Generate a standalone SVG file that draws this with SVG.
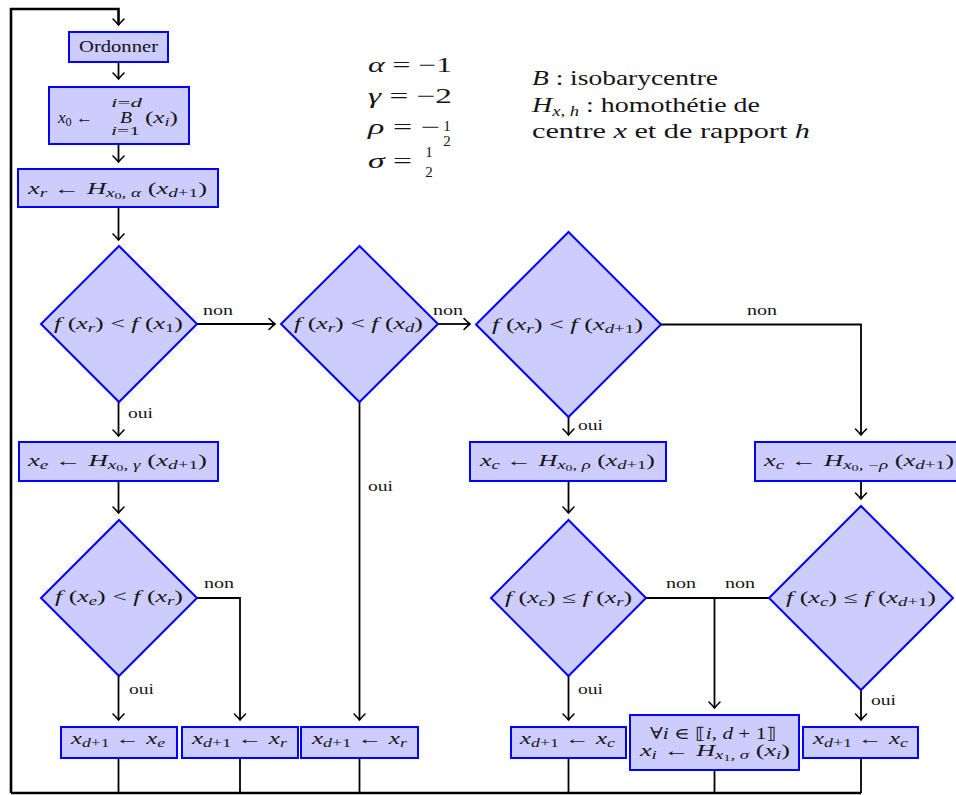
<svg xmlns="http://www.w3.org/2000/svg" width="956" height="795" viewBox="0 0 956 795" font-family="'Liberation Serif', 'Times New Roman', 'DejaVu Serif', serif">
<defs>
<style>
.n{fill:#ccccff;stroke:#0000ff;stroke-width:2}
.c{fill:none;stroke:#000;stroke-width:1.8}
.o{fill:none;stroke:#000;stroke-width:2.6}
.a{marker-end:url(#tip)}
text{font-family:'Liberation Serif','Times New Roman','DejaVu Serif',serif;fill:#151515}
.m{font-size:16px}
.i{font-style:italic}
.b{font-size:11.5px}
.bb{font-size:8.5px}
.l{font-size:14px}
.big{font-size:21px}
.fr{font-size:15px;text-anchor:middle}
</style>
<marker id="tip" markerUnits="userSpaceOnUse" orient="auto" markerWidth="12" markerHeight="14" refX="0" refY="0" viewBox="-8 -7 10 14" overflow="visible">
<path d="M-6,-5.5 Q-2,-1.5 0,0 Q-2,1.5 -6,5.5" fill="none" stroke="#000" stroke-width="1.6" stroke-linecap="round"/>
</marker>
</defs>
<rect width="956" height="795" fill="#fff"/>

<!-- connectors -->
<g id="connectors">
<path class="o a" d="M11,793 V9 H118.5 V25"/>
<path class="o" d="M11,793 H861"/>
<path class="c a" d="M118.5,62 V79"/>
<path class="c a" d="M118.5,144 V162"/>
<path class="c a" d="M118.5,207 V240"/>
<path class="c a" d="M118.5,402 V436"/>
<path class="c a" d="M118.5,481 V513"/>
<path class="c a" d="M118.5,676 V720"/>
<path class="c a" d="M197,598 H240 V720"/>
<path class="c a" d="M197,324 H275"/>
<path class="c a" d="M359.5,402 V720"/>
<path class="c a" d="M438,324 H470"/>
<path class="c a" d="M568.5,417 V435"/>
<path class="c a" d="M661,324.5 H861 V435"/>
<path class="c a" d="M568.5,481 V513"/>
<path class="c a" d="M861,481 V499"/>
<path class="c a" d="M568.5,676 V720"/>
<path class="c" d="M646,598 H769"/>
<path class="c a" d="M714.5,598 V708"/>
<path class="c a" d="M861,690 V720"/>
<path class="c" d="M118.5,758 V793 M240,758 V793 M359.5,758 V793 M568.5,758 V793 M714.5,770 V793 M861,758 V793"/>
<text class="l" x="203" y="315" textLength="30" lengthAdjust="spacingAndGlyphs">non</text>
<text class="l" x="433" y="315" textLength="30" lengthAdjust="spacingAndGlyphs">non</text>
<text class="l" x="747" y="315" textLength="30" lengthAdjust="spacingAndGlyphs">non</text>
<text class="l" x="204" y="588" textLength="30" lengthAdjust="spacingAndGlyphs">non</text>
<text class="l" x="666" y="588" textLength="30" lengthAdjust="spacingAndGlyphs">non</text>
<text class="l" x="725" y="588" textLength="30" lengthAdjust="spacingAndGlyphs">non</text>
<text class="l" x="128" y="418" textLength="25" lengthAdjust="spacingAndGlyphs">oui</text>
<text class="l" x="578" y="430" textLength="25" lengthAdjust="spacingAndGlyphs">oui</text>
<text class="l" x="368" y="491" textLength="25" lengthAdjust="spacingAndGlyphs">oui</text>
<text class="l" x="129" y="694" textLength="25" lengthAdjust="spacingAndGlyphs">oui</text>
<text class="l" x="578" y="694" textLength="25" lengthAdjust="spacingAndGlyphs">oui</text>
<text class="l" x="871" y="705" textLength="25" lengthAdjust="spacingAndGlyphs">oui</text>
</g>

<!-- parameter legend -->
<g id="legend">
<text class="big" x="368" y="72" textLength="84" lengthAdjust="spacingAndGlyphs"><tspan class="i">α</tspan> = −1</text>
<text class="big" x="368" y="103" textLength="84" lengthAdjust="spacingAndGlyphs"><tspan class="i">γ</tspan> = −2</text>
<text class="big" x="368" y="134" textLength="72" lengthAdjust="spacingAndGlyphs"><tspan class="i">ρ</tspan> = −</text>
<text class="fr" x="447" y="131">1</text>
<text class="fr" x="447" y="146">2</text>
<text class="big" x="368" y="168" textLength="44" lengthAdjust="spacingAndGlyphs"><tspan class="i">σ</tspan> =</text>
<text class="fr" x="429" y="157">1</text>
<text class="fr" x="429" y="177">2</text>
<text class="big" x="532" y="85" textLength="186" lengthAdjust="spacingAndGlyphs"><tspan class="i">B</tspan> : isobarycentre</text>
<text class="big" x="532" y="112" textLength="228" lengthAdjust="spacingAndGlyphs"><tspan class="i">H</tspan><tspan font-size="14" dy="4"><tspan class="i">x</tspan>, <tspan class="i">h</tspan></tspan><tspan dy="-4"> : homothétie de</tspan></text>
<text class="big" x="532" y="138" textLength="278" lengthAdjust="spacingAndGlyphs">centre <tspan class="i">x</tspan> et de rapport <tspan class="i">h</tspan></text>
</g>

<!-- process boxes -->
<g id="ordonner">
<rect class="n" x="69" y="32" width="99" height="30"/>
<text class="m" x="79" y="52" textLength="79" lengthAdjust="spacingAndGlyphs">Ordonner</text>
</g>
<g id="barycentre">
<rect class="n" x="49" y="87" width="140" height="57"/>
<text class="m" x="58" y="123" textLength="35" lengthAdjust="spacingAndGlyphs"><tspan class="i">x</tspan><tspan class="b" dy="3">0</tspan><tspan dy="-3"> ←</tspan></text>
<text class="m i" x="120" y="123" textLength="12" lengthAdjust="spacingAndGlyphs">B</text>
<text class="b" x="111" y="107" textLength="31" lengthAdjust="spacingAndGlyphs"><tspan class="i">i</tspan>=<tspan class="i">d</tspan></text>
<text class="b" x="111" y="135" textLength="29" lengthAdjust="spacingAndGlyphs"><tspan class="i">i</tspan>=1</text>
<text class="m" x="145" y="123" textLength="33" lengthAdjust="spacingAndGlyphs">(<tspan class="i">x</tspan><tspan class="b i" dy="3">i</tspan><tspan dy="-3">)</tspan></text>
</g>
<g id="reflexion">
<rect class="n" x="18" y="169" width="200" height="38"/>
<text class="m" x="28" y="194" textLength="179" lengthAdjust="spacingAndGlyphs"><tspan class="i">x</tspan><tspan class="b i" dy="3">r</tspan><tspan dy="-3"> ← </tspan><tspan class="i">H</tspan><tspan class="b" dy="3"><tspan class="i">x</tspan><tspan class="bb" dy="2">0</tspan><tspan dy="-2">, </tspan><tspan class="i">α</tspan></tspan><tspan dy="-3"> (</tspan><tspan class="i">x</tspan><tspan class="b" dy="3"><tspan class="i">d</tspan>+1</tspan><tspan dy="-3">)</tspan></text>
</g>

<!-- tests -->
<g id="test-x1">
<polygon class="n" points="119,246 197,324 119,402 41,324"/>
<text class="m" x="54" y="329" textLength="129" lengthAdjust="spacingAndGlyphs"><tspan class="i">f</tspan> (<tspan class="i">x</tspan><tspan class="b i" dy="3">r</tspan><tspan dy="-3">) &lt; </tspan><tspan class="i">f</tspan> (<tspan class="i">x</tspan><tspan class="b" dy="3">1</tspan><tspan dy="-3">)</tspan></text>
</g>
<g id="test-xd">
<polygon class="n" points="359.5,246 438,324 359.5,402 281,324"/>
<text class="m" x="294" y="329" textLength="129" lengthAdjust="spacingAndGlyphs"><tspan class="i">f</tspan> (<tspan class="i">x</tspan><tspan class="b i" dy="3">r</tspan><tspan dy="-3">) &lt; </tspan><tspan class="i">f</tspan> (<tspan class="i">x</tspan><tspan class="b i" dy="3">d</tspan><tspan dy="-3">)</tspan></text>
</g>
<g id="test-xd1">
<polygon class="n" points="568.5,232 661,324.5 568.5,417 476,324.5"/>
<text class="m" x="492" y="330" textLength="151" lengthAdjust="spacingAndGlyphs"><tspan class="i">f</tspan> (<tspan class="i">x</tspan><tspan class="b i" dy="3">r</tspan><tspan dy="-3">) &lt; </tspan><tspan class="i">f</tspan> (<tspan class="i">x</tspan><tspan class="b" dy="3"><tspan class="i">d</tspan>+1</tspan><tspan dy="-3">)</tspan></text>
</g>

<g id="expansion">
<rect class="n" x="19" y="442" width="199" height="39"/>
<text class="m" x="28" y="466" textLength="179" lengthAdjust="spacingAndGlyphs"><tspan class="i">x</tspan><tspan class="b i" dy="3">e</tspan><tspan dy="-3"> ← </tspan><tspan class="i">H</tspan><tspan class="b" dy="3"><tspan class="i">x</tspan><tspan class="bb" dy="2">0</tspan><tspan dy="-2">, </tspan><tspan class="i">γ</tspan></tspan><tspan dy="-3"> (</tspan><tspan class="i">x</tspan><tspan class="b" dy="3"><tspan class="i">d</tspan>+1</tspan><tspan dy="-3">)</tspan></text>
</g>
<g id="contraction-ext">
<rect class="n" x="470" y="442" width="196" height="39"/>
<text class="m" x="480" y="466" textLength="175" lengthAdjust="spacingAndGlyphs"><tspan class="i">x</tspan><tspan class="b i" dy="3">c</tspan><tspan dy="-3"> ← </tspan><tspan class="i">H</tspan><tspan class="b" dy="3"><tspan class="i">x</tspan><tspan class="bb" dy="2">0</tspan><tspan dy="-2">, </tspan><tspan class="i">ρ</tspan></tspan><tspan dy="-3"> (</tspan><tspan class="i">x</tspan><tspan class="b" dy="3"><tspan class="i">d</tspan>+1</tspan><tspan dy="-3">)</tspan></text>
</g>
<g id="contraction-int">
<rect class="n" x="755" y="442" width="205" height="39"/>
<text class="m" x="764" y="466" textLength="190" lengthAdjust="spacingAndGlyphs"><tspan class="i">x</tspan><tspan class="b i" dy="3">c</tspan><tspan dy="-3"> ← </tspan><tspan class="i">H</tspan><tspan class="b" dy="3"><tspan class="i">x</tspan><tspan class="bb" dy="2">0</tspan><tspan dy="-2">, −</tspan><tspan class="i">ρ</tspan></tspan><tspan dy="-3"> (</tspan><tspan class="i">x</tspan><tspan class="b" dy="3"><tspan class="i">d</tspan>+1</tspan><tspan dy="-3">)</tspan></text>
</g>

<g id="test-xe">
<polygon class="n" points="119,520 197,598 119,676 41,598"/>
<text class="m" x="55" y="602" textLength="128" lengthAdjust="spacingAndGlyphs"><tspan class="i">f</tspan> (<tspan class="i">x</tspan><tspan class="b i" dy="3">e</tspan><tspan dy="-3">) &lt; </tspan><tspan class="i">f</tspan> (<tspan class="i">x</tspan><tspan class="b i" dy="3">r</tspan><tspan dy="-3">)</tspan></text>
</g>
<g id="test-xc-xr">
<polygon class="n" points="568.5,520 646,598 568.5,676 491,598"/>
<text class="m" x="505" y="603" textLength="127" lengthAdjust="spacingAndGlyphs"><tspan class="i">f</tspan> (<tspan class="i">x</tspan><tspan class="b i" dy="3">c</tspan><tspan dy="-3">) ≤ </tspan><tspan class="i">f</tspan> (<tspan class="i">x</tspan><tspan class="b i" dy="3">r</tspan><tspan dy="-3">)</tspan></text>
</g>
<g id="test-xc-xd1">
<polygon class="n" points="861,506 953,598 861,690 769,598"/>
<text class="m" x="786" y="603" textLength="150" lengthAdjust="spacingAndGlyphs"><tspan class="i">f</tspan> (<tspan class="i">x</tspan><tspan class="b i" dy="3">c</tspan><tspan dy="-3">) ≤ </tspan><tspan class="i">f</tspan> (<tspan class="i">x</tspan><tspan class="b" dy="3"><tspan class="i">d</tspan>+1</tspan><tspan dy="-3">)</tspan></text>
</g>

<!-- assignments -->
<g id="set-xe">
<rect class="n" x="61" y="727" width="116" height="31"/>
<text class="m" x="71" y="744" textLength="94" lengthAdjust="spacingAndGlyphs"><tspan class="i">x</tspan><tspan class="b" dy="3"><tspan class="i">d</tspan>+1</tspan><tspan dy="-3"> ← </tspan><tspan class="i">x</tspan><tspan class="b i" dy="3">e</tspan></text>
</g>
<g id="set-xr-1">
<rect class="n" x="182" y="727" width="116" height="31"/>
<text class="m" x="192" y="744" textLength="95" lengthAdjust="spacingAndGlyphs"><tspan class="i">x</tspan><tspan class="b" dy="3"><tspan class="i">d</tspan>+1</tspan><tspan dy="-3"> ← </tspan><tspan class="i">x</tspan><tspan class="b i" dy="3">r</tspan></text>
</g>
<g id="set-xr-2">
<rect class="n" x="301" y="727" width="117" height="31"/>
<text class="m" x="312" y="744" textLength="95" lengthAdjust="spacingAndGlyphs"><tspan class="i">x</tspan><tspan class="b" dy="3"><tspan class="i">d</tspan>+1</tspan><tspan dy="-3"> ← </tspan><tspan class="i">x</tspan><tspan class="b i" dy="3">r</tspan></text>
</g>
<g id="set-xc-1">
<rect class="n" x="511" y="727" width="115" height="31"/>
<text class="m" x="520" y="744" textLength="95" lengthAdjust="spacingAndGlyphs"><tspan class="i">x</tspan><tspan class="b" dy="3"><tspan class="i">d</tspan>+1</tspan><tspan dy="-3"> ← </tspan><tspan class="i">x</tspan><tspan class="b i" dy="3">c</tspan></text>
</g>
<g id="shrink">
<rect class="n" x="630" y="715" width="169" height="55"/>
<text class="m" x="650" y="739" textLength="127" lengthAdjust="spacingAndGlyphs">∀<tspan class="i">i</tspan> ∈ ⟦<tspan class="i">i</tspan>,  <tspan class="i">d</tspan> + 1⟧</text>
<text class="m" x="640" y="756" textLength="150" lengthAdjust="spacingAndGlyphs"><tspan class="i">x</tspan><tspan class="b i" dy="3">i</tspan><tspan dy="-3"> ← </tspan><tspan class="i">H</tspan><tspan class="b" dy="3"><tspan class="i">x</tspan><tspan class="bb" dy="2">1</tspan><tspan dy="-2">, </tspan><tspan class="i">σ</tspan></tspan><tspan dy="-3"> (</tspan><tspan class="i">x</tspan><tspan class="b i" dy="3">i</tspan><tspan dy="-3">)</tspan></text>
</g>
<g id="set-xc-2">
<rect class="n" x="803" y="727" width="115" height="31"/>
<text class="m" x="813" y="744" textLength="95" lengthAdjust="spacingAndGlyphs"><tspan class="i">x</tspan><tspan class="b" dy="3"><tspan class="i">d</tspan>+1</tspan><tspan dy="-3"> ← </tspan><tspan class="i">x</tspan><tspan class="b i" dy="3">c</tspan></text>
</g>
</svg>
